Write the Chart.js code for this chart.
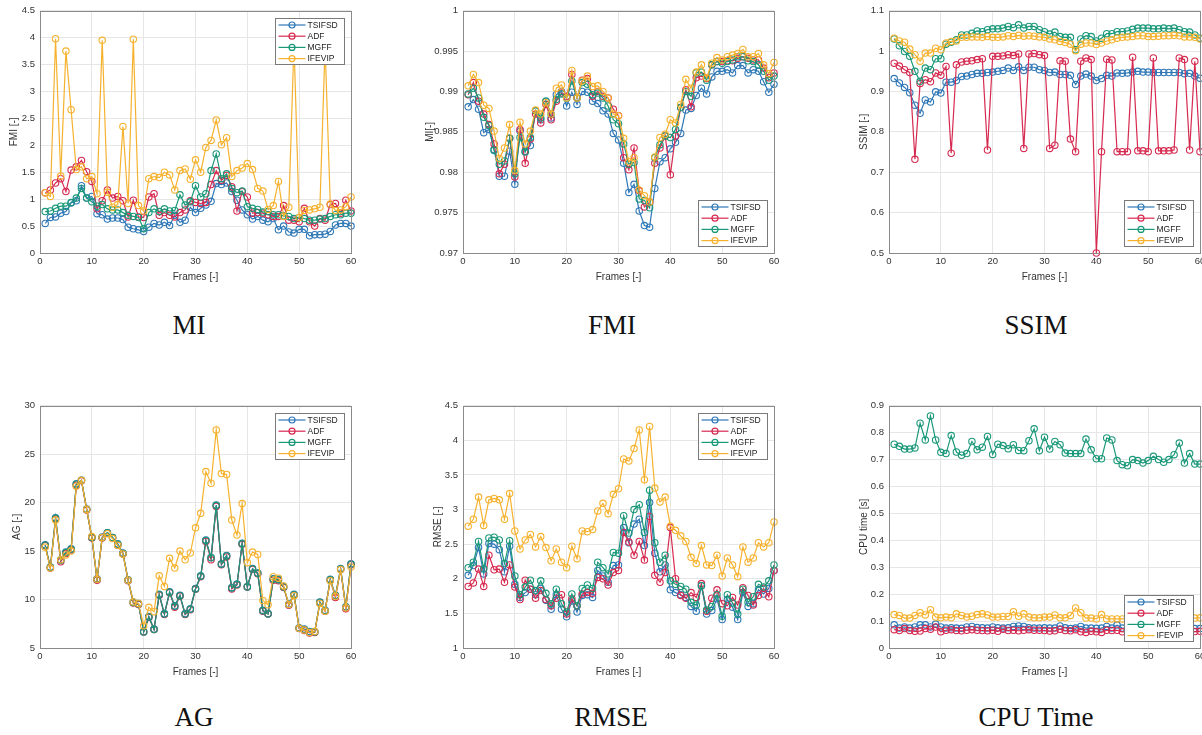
<!DOCTYPE html>
<html>
<head>
<meta charset="utf-8">
<script src="https://cdn.jsdelivr.net/npm/chart.js@4.4.0/dist/chart.umd.min.js"></script>
<style>
  html, body { margin:0; padding:0; background:#fff; width:1202px; height:735px; overflow:hidden; position:relative; }
  .panel { position:absolute; width:362px; height:289px; }
  .cap { position:absolute; font-family:"Liberation Serif", "Times New Roman", serif; font-size:27px; line-height:27px; color:#111; transform:translateX(-50%); white-space:nowrap; }
</style>
</head>
<body>

<script>
const FRAMES  = [1,2,3,4,5,6,7,8,9,10,11,12,13,14,15,16,17,18,19,20,21,22,23,24,25,26,27,28,29,30,
                 31,32,33,34,35,36,37,38,39,40,41,42,43,44,45,46,47,48,49,50,51,52,53,54,55,56,57,58,59,60];
const METHODS = ["TSIFSD", "ADF", "MGFF", "IFEVIP"];
const COLORS  = ["#2f78b7", "#d62a50", "#1a9879", "#f6b22e"];
const X_TICKS = [0, 10, 20, 30, 40, 50, 60];

// MI panel (y axis reads FMI)
const MI_TSIFSD = [0.55,0.66,0.67,0.74,0.77,0.93,0.97,1.25,1.02,1.05, 0.73,0.71,0.63,0.65,0.65,0.62,0.48,0.45,0.43,0.40,
                   0.48,0.55,0.52,0.57,0.51,0.70,0.57,0.61,0.85,0.75, 0.83,0.89,0.96,1.29,1.27,1.30,1.14,0.98,0.80,0.71,
                   0.63,0.68,0.61,0.58,0.64,0.43,0.50,0.39,0.37,0.44, 0.44,0.32,0.34,0.34,0.35,0.40,0.52,0.55,0.55,0.50];
const MI_ADF    = [1.12,1.17,1.30,1.38,1.14,1.54,1.60,1.72,1.51,1.33, 0.82,0.97,1.17,1.02,1.05,0.97,0.67,0.98,0.67,0.66,
                   1.04,1.10,0.70,0.75,0.70,0.67,0.75,0.80,0.97,0.94, 0.92,0.94,1.27,1.53,1.35,1.44,1.23,0.78,1.14,1.04,
                   0.74,0.75,0.74,0.71,0.68,0.68,0.88,0.61,0.61,0.58, 0.83,0.58,0.50,0.64,0.61,0.90,0.92,0.74,0.98,0.78];
const MI_MGFF   = [0.77,0.78,0.83,0.87,0.87,0.94,1.02,1.20,1.02,0.95, 0.87,0.90,0.82,0.80,0.80,0.75,0.70,0.68,0.66,0.45,
                   0.75,0.82,0.77,0.82,0.78,0.79,1.08,0.89,0.95,1.25, 1.04,1.10,1.53,1.84,1.38,1.47,1.20,1.12,1.15,0.86,
                   0.83,0.81,0.76,0.77,0.71,0.71,0.69,0.68,0.64,0.66, 0.64,0.61,0.61,0.63,0.64,0.68,0.71,0.71,0.74,0.74];
const MI_IFEVIP = [1.12,1.05,3.98,1.43,3.75,2.66,1.55,1.60,1.38,1.42, 1.10,3.95,1.13,0.85,0.90,2.35,0.92,3.97,0.88,0.78,
                   1.38,1.42,1.40,1.50,1.45,1.17,1.53,1.56,1.37,1.73, 1.50,1.96,2.09,2.47,2.01,2.14,1.42,1.53,1.58,1.66,
                   1.55,1.20,1.15,0.81,0.88,1.33,0.68,0.85,3.90,0.66, 0.79,0.80,0.82,0.85,3.85,0.91,0.79,0.80,0.86,1.04];

// FMI panel (y axis reads MI)
const FMI_TSIFSD = [0.9881,0.9890,0.9878,0.9849,0.9853,0.9828,0.9795,0.9795,0.9826,0.9785, 0.9851,0.9826,0.9833,0.9876,0.9865,0.9888,0.9867,0.9896,0.9900,0.9882,
                    0.9899,0.9884,0.9900,0.9899,0.9888,0.9885,0.9876,0.9872,0.9848,0.9840, 0.9811,0.9775,0.9785,0.9752,0.9734,0.9732,0.9780,0.9813,0.9818,0.9829,
                    0.9837,0.9848,0.9877,0.9879,0.9895,0.9904,0.9897,0.9918,0.9925,0.9925, 0.9927,0.9923,0.9932,0.9932,0.9923,0.9927,0.9925,0.9912,0.9899,0.9909];
const FMI_ADF    = [0.9896,0.9911,0.9888,0.9872,0.9859,0.9835,0.9798,0.9810,0.9842,0.9794, 0.9853,0.9811,0.9841,0.9872,0.9861,0.9884,0.9865,0.9888,0.9898,0.9894,
                    0.9921,0.9892,0.9914,0.9916,0.9894,0.9900,0.9894,0.9892,0.9878,0.9870, 0.9818,0.9803,0.9830,0.9777,0.9757,0.9763,0.9811,0.9830,0.9845,0.9797,
                    0.9845,0.9880,0.9902,0.9881,0.9917,0.9919,0.9916,0.9933,0.9937,0.9937, 0.9938,0.9938,0.9941,0.9943,0.9941,0.9939,0.9939,0.9929,0.9917,0.9923];
const FMI_MGFF   = [0.9897,0.9904,0.9892,0.9868,0.9858,0.9827,0.9810,0.9814,0.9842,0.9798, 0.9843,0.9825,0.9843,0.9876,0.9867,0.9888,0.9872,0.9890,0.9897,0.9892,
                    0.9913,0.9892,0.9911,0.9909,0.9896,0.9898,0.9892,0.9882,0.9865,0.9860, 0.9835,0.9810,0.9812,0.9767,0.9765,0.9756,0.9818,0.9834,0.9845,0.9843,
                    0.9853,0.9880,0.9900,0.9894,0.9923,0.9924,0.9914,0.9933,0.9937,0.9935, 0.9937,0.9939,0.9943,0.9943,0.9938,0.9937,0.9933,0.9925,0.9914,0.9919];
const FMI_IFEVIP = [0.9907,0.9921,0.9911,0.9883,0.9879,0.9851,0.9817,0.9830,0.9859,0.9802, 0.9862,0.9835,0.9851,0.9877,0.9872,0.9886,0.9872,0.9904,0.9908,0.9892,
                    0.9926,0.9892,0.9913,0.9919,0.9906,0.9907,0.9900,0.9892,0.9872,0.9870, 0.9842,0.9813,0.9818,0.9778,0.9771,0.9763,0.9819,0.9843,0.9847,0.9865,
                    0.9861,0.9884,0.9915,0.9904,0.9924,0.9933,0.9917,0.9935,0.9942,0.9939, 0.9943,0.9945,0.9947,0.9952,0.9943,0.9943,0.9947,0.9933,0.9922,0.9936];

// SSIM
const SSIM_TSIFSD = [0.932,0.921,0.910,0.897,0.866,0.846,0.879,0.874,0.899,0.896, 0.923,0.923,0.927,0.937,0.938,0.942,0.945,0.945,0.947,0.948,
                     0.950,0.952,0.958,0.952,0.961,0.952,0.960,0.960,0.954,0.952, 0.947,0.948,0.942,0.942,0.940,0.917,0.938,0.943,0.938,0.927,
                     0.932,0.940,0.938,0.946,0.945,0.946,0.948,0.950,0.948,0.948, 0.947,0.947,0.947,0.947,0.947,0.947,0.944,0.945,0.938,0.933];
const SSIM_ADF    = [0.970,0.963,0.954,0.947,0.732,0.920,0.929,0.924,0.946,0.940, 0.962,0.747,0.966,0.973,0.975,0.976,0.979,0.981,0.755,0.987,
                     0.987,0.988,0.991,0.989,0.993,0.759,0.993,0.994,0.991,0.989, 0.759,0.767,0.976,0.975,0.782,0.751,0.975,0.983,0.979,0.500,
                     0.751,0.980,0.978,0.751,0.751,0.751,0.985,0.753,0.753,0.751, 0.983,0.753,0.753,0.753,0.755,0.983,0.979,0.755,0.975,0.751];
const SSIM_MGFF   = [1.030,1.013,0.999,0.987,0.950,0.925,0.958,0.954,0.981,0.981, 1.017,1.022,1.028,1.040,1.040,1.044,1.050,1.048,1.053,1.055,
                     1.055,1.057,1.061,1.058,1.065,1.057,1.061,1.061,1.053,1.048, 1.042,1.047,1.036,1.034,1.034,1.003,1.030,1.038,1.036,1.025,
                     1.032,1.043,1.043,1.048,1.048,1.050,1.054,1.057,1.057,1.057, 1.055,1.055,1.057,1.055,1.057,1.053,1.048,1.047,1.040,1.032];
const SSIM_IFEVIP = [1.032,1.025,1.022,1.005,0.991,0.975,0.995,0.995,1.007,1.003, 1.020,1.024,1.025,1.034,1.034,1.035,1.035,1.034,1.036,1.034,
                     1.034,1.035,1.038,1.036,1.039,1.037,1.038,1.037,1.035,1.034, 1.030,1.028,1.024,1.021,1.017,1.001,1.017,1.020,1.020,1.016,
                     1.020,1.025,1.028,1.032,1.034,1.035,1.036,1.038,1.038,1.036, 1.036,1.037,1.038,1.038,1.039,1.038,1.035,1.035,1.034,1.030];

// AG
const AG_TSIFSD = [15.65,13.35,18.45,14.1,14.9,15.25,21.95,22.3,19.35,16.45, 12.15,16.45,16.9,16.4,15.75,14.8,12.05,9.75,9.6,6.7,
                   8.25,6.95,10.55,8.55,10.8,9.35,10.45,8.55,9.05,11.15, 12.45,16.15,14.35,19.75,13.7,14.55,11.25,11.6,15.8,11.35,
                   13.2,12.75,8.9,8.55,12.15,12.1,11.35,9.55,10.55,7.1, 6.95,6.7,6.7,9.75,8.9,12.1,10.45,13.2,9.25,13.7];
const AG_ADF    = [15.55,13.25,18.3,13.9,14.75,15.1,21.8,22.25,19.25,16.35, 12.0,16.35,16.85,16.35,15.6,14.7,11.95,9.65,9.5,6.65,
                   8.15,6.9,10.45,8.45,10.7,9.2,10.35,8.45,8.95,11.05, 12.35,16.0,14.1,19.6,13.6,14.4,11.1,11.5,15.7,11.3,
                   13.1,12.65,8.8,8.5,12.0,11.95,11.25,9.4,10.45,7.0, 6.8,6.55,6.6,9.65,8.8,12.0,10.2,13.1,9.05,13.6];
const AG_MGFF   = [15.6,13.3,18.4,14.05,14.85,15.2,21.9,22.3,19.3,16.4, 12.1,16.4,16.9,16.4,15.7,14.75,12.0,9.7,9.55,6.65,
                   8.2,6.9,10.5,8.5,10.75,9.3,10.4,8.5,9.0,11.1, 12.4,16.1,14.3,19.7,13.65,14.5,11.2,11.55,15.75,11.3,
                   13.15,12.7,8.85,8.5,12.1,12.05,11.3,9.5,10.5,7.05, 6.9,6.65,6.65,9.7,8.85,12.05,10.4,13.15,9.2,13.65];
const AG_IFEVIP = [15.4,13.25,18.2,14.1,14.6,15.0,21.7,22.3,19.3,16.5, 12.1,16.4,16.8,16.3,15.6,14.7,12.0,9.75,9.6,7.3,
                   9.2,8.75,12.45,11.35,14.25,13.25,15.0,14.1,14.8,17.4, 18.9,23.2,22.0,27.5,23.0,22.9,18.2,16.65,19.9,13.8,
                   14.9,14.65,9.9,9.45,12.35,12.2,11.4,9.5,10.4,7.05, 6.85,6.6,6.7,9.6,8.8,11.95,10.35,13.1,9.15,13.35];

// RMSE
const RMSE_TSIFSD = [2.05,2.19,2.45,2.07,2.51,2.50,2.42,2.10,2.47,1.92, 1.73,1.80,1.85,1.77,1.86,1.69,1.56,1.77,1.56,1.45,
                     1.68,1.52,1.76,1.77,1.73,2.12,2.04,1.95,2.19,2.20, 2.74,2.52,2.79,2.86,2.48,3.10,2.37,2.10,2.20,1.84,
                     1.80,1.77,1.73,1.60,1.53,1.90,1.49,1.54,1.71,1.41, 1.70,1.59,1.41,1.80,1.60,1.64,1.84,1.78,1.86,2.12];
const RMSE_ADF    = [1.89,1.94,2.14,1.89,2.34,2.13,2.14,1.95,2.20,1.88, 1.70,1.98,1.85,1.72,1.83,1.70,1.61,1.72,1.77,1.49,
                     1.71,1.61,1.78,1.80,1.79,2.02,2.00,1.91,2.09,2.12, 2.67,2.53,2.34,2.54,2.27,2.90,2.05,1.95,2.09,2.74,
                     2.00,1.76,1.72,1.80,1.73,1.93,1.53,1.72,1.84,1.64, 1.61,1.73,1.62,1.87,1.76,1.62,1.76,1.86,1.74,2.12];
const RMSE_MGFF   = [2.16,2.24,2.54,2.14,2.59,2.60,2.56,2.22,2.55,2.04, 1.77,1.88,1.98,1.83,1.97,1.79,1.64,1.85,1.64,1.52,
                     1.78,1.61,1.86,1.91,1.86,2.24,2.16,2.07,2.38,2.37, 2.91,2.66,3.00,3.07,2.67,3.28,2.52,2.24,2.34,1.97,
                     1.92,1.89,1.85,1.66,1.62,1.90,1.55,1.60,1.77,1.46, 1.77,1.65,1.49,1.85,1.66,1.74,1.92,1.88,1.97,2.20];
const RMSE_IFEVIP = [2.76,2.86,3.18,2.77,3.14,3.16,3.14,2.86,3.23,2.69, 2.43,2.56,2.64,2.46,2.61,2.45,2.26,2.43,2.24,2.16,
                     2.47,2.29,2.69,2.68,2.71,2.98,3.09,2.94,3.22,3.30, 3.73,3.70,3.88,4.15,3.43,4.20,3.31,3.11,3.18,2.76,
                     2.70,2.62,2.54,2.31,2.22,2.48,2.20,2.19,2.34,2.04, 2.30,2.20,2.03,2.46,2.24,2.30,2.52,2.46,2.52,2.82];

// CPU time [s]
const CPU_TSIFSD = [0.086,0.074,0.078,0.074,0.078,0.086,0.086,0.078,0.089,0.078, 0.074,0.075,0.074,0.073,0.078,0.080,0.076,0.075,0.074,0.078,
                    0.075,0.074,0.075,0.080,0.082,0.080,0.075,0.074,0.074,0.075, 0.074,0.074,0.082,0.075,0.072,0.074,0.080,0.074,0.074,0.073,
                    0.074,0.080,0.074,0.085,0.074,0.073,0.074,0.075,0.073,0.074, 0.074,0.073,0.074,0.075,0.074,0.073,0.074,0.073,0.072,0.072];
const CPU_ADF    = [0.068,0.065,0.072,0.065,0.062,0.063,0.072,0.070,0.078,0.060, 0.066,0.068,0.065,0.064,0.066,0.068,0.066,0.065,0.064,0.066,
                    0.062,0.070,0.065,0.066,0.064,0.066,0.068,0.066,0.066,0.065, 0.063,0.064,0.070,0.065,0.064,0.068,0.060,0.058,0.062,0.060,
                    0.058,0.066,0.065,0.066,0.060,0.062,0.063,0.061,0.062,0.061, 0.062,0.060,0.061,0.063,0.062,0.061,0.060,0.062,0.061,0.062];
const CPU_MGFF   = [0.757,0.749,0.739,0.739,0.743,0.835,0.773,0.862,0.773,0.727, 0.722,0.789,0.728,0.716,0.722,0.767,0.736,0.746,0.786,0.719,
                    0.757,0.752,0.740,0.755,0.734,0.733,0.770,0.814,0.733,0.783, 0.739,0.767,0.755,0.724,0.722,0.722,0.722,0.776,0.736,0.703,
                    0.703,0.780,0.773,0.696,0.681,0.677,0.700,0.696,0.687,0.696, 0.712,0.700,0.690,0.700,0.718,0.761,0.687,0.722,0.683,0.683];
const CPU_IFEVIP = [0.124,0.121,0.111,0.111,0.121,0.131,0.123,0.142,0.115,0.112, 0.115,0.112,0.127,0.121,0.115,0.118,0.124,0.127,0.123,0.115,
                    0.115,0.117,0.117,0.135,0.118,0.127,0.115,0.112,0.112,0.115, 0.115,0.123,0.112,0.112,0.121,0.149,0.131,0.111,0.111,0.108,
                    0.124,0.108,0.108,0.108,0.108,0.110,0.112,0.109,0.111,0.110, 0.112,0.110,0.109,0.111,0.113,0.110,0.112,0.109,0.111,0.112];

const PANELS = [
  { caption:"MI",       left:0,   top:0,   capX:189,  capY:312, yTitle:"FMI [-]",      titlePad:8,  yMin:0,    yMax:4.5, yStep:0.5,   legend:"ne", series:[MI_TSIFSD, MI_ADF, MI_MGFF, MI_IFEVIP] },
  { caption:"FMI",      left:423, top:0,   capX:612,  capY:312, yTitle:"MI[-]",        titlePad:1,  yMin:0.97, yMax:1,   yStep:0.005, legend:"se", series:[FMI_TSIFSD, FMI_ADF, FMI_MGFF, FMI_IFEVIP] },
  { caption:"SSIM",     left:849, top:0,   capX:1036, capY:312, yTitle:"SSIM [-]",     titlePad:9,  yMin:0.5,  yMax:1.1, yStep:0.1,   legend:"se", series:[SSIM_TSIFSD, SSIM_ADF, SSIM_MGFF, SSIM_IFEVIP] },
  { caption:"AG",       left:0,   top:395, capX:194,  capY:704, yTitle:"AG [-]",       titlePad:11, yMin:5,    yMax:30,  yStep:5,     legend:"ne", series:[AG_TSIFSD, AG_ADF, AG_MGFF, AG_IFEVIP] },
  { caption:"RMSE",     left:423, top:395, capX:611,  capY:704, yTitle:"RMSE [-]",     titlePad:9,  yMin:1,    yMax:4.5, yStep:0.5,   legend:"ne", series:[RMSE_TSIFSD, RMSE_ADF, RMSE_MGFF, RMSE_IFEVIP] },
  { caption:"CPU Time", left:849, top:395, capX:1036, capY:704, yTitle:"CPU time [s]", titlePad:9,  yMin:0,    yMax:0.9, yStep:0.1,   legend:"se", series:[CPU_TSIFSD, CPU_ADF, CPU_MGFF, CPU_IFEVIP] },
];

const SANS = '"Liberation Sans", Arial, Helvetica, sans-serif';
Chart.defaults.font.family = SANS;

// axes box + inset legend, MATLAB style
const boxAndLegend = {
  id: "boxAndLegend",
  afterDatasetsDraw(chart, args, opts) {
    const { ctx, chartArea: a } = chart;
    ctx.save();
    ctx.strokeStyle = "#8a8a8a"; ctx.lineWidth = 1;
    ctx.strokeRect(Math.round(a.left) + 0.5, Math.round(a.top) + 0.5, Math.round(a.right - a.left), Math.round(a.bottom - a.top));

    const w = 69, h = 46, inset = 7;
    const x = Math.round(a.right - inset - w) + 0.5;
    const y = Math.round(opts.where === "ne" ? a.top + inset : a.bottom - inset - h) + 0.5;
    ctx.fillStyle = "#fff"; ctx.fillRect(x, y, w, h);
    ctx.strokeStyle = "#7a7a7a"; ctx.strokeRect(x, y, w, h);
    ctx.font = "8.5px " + SANS; ctx.textBaseline = "middle"; ctx.textAlign = "left";
    chart.data.datasets.forEach((ds, i) => {
      const yy = y + 6.5 + i * 11.2;
      ctx.strokeStyle = ds.borderColor; ctx.lineWidth = 1.2;
      ctx.beginPath(); ctx.moveTo(x + 3, yy); ctx.lineTo(x + 30, yy); ctx.stroke();
      ctx.beginPath(); ctx.arc(x + 16.5, yy, 3, 0, Math.PI * 2); ctx.stroke();
      ctx.fillStyle = "#222"; ctx.fillText(ds.label, x + 32, yy + 0.5);
    });
    ctx.restore();
  }
};

const fmt = v => String(parseFloat(Number(v).toFixed(4)));

PANELS.forEach(p => {
  const wrap = document.createElement("div");
  wrap.className = "panel";
  wrap.style.left = p.left + "px";
  wrap.style.top = p.top + "px";
  const cv = document.createElement("canvas");
  cv.width = 362; cv.height = 289;
  wrap.appendChild(cv);
  document.body.appendChild(wrap);

  const cap = document.createElement("div");
  cap.className = "cap";
  cap.style.left = p.capX + "px";
  cap.style.top = p.capY + "px";
  cap.textContent = p.caption;
  document.body.appendChild(cap);

  const datasets = METHODS.map((m, i) => ({
    label: m,
    data: FRAMES.map((f, k) => ({ x: f, y: p.series[i][k] })),
    borderColor: COLORS[i],
    borderWidth: 1.2,
    pointRadius: 3.2,
    pointBorderWidth: 1.1,
    pointBorderColor: COLORS[i],
    pointBackgroundColor: "rgba(255,255,255,0)",
    tension: 0,
    clip: false,
    order: METHODS.length - i,
  }));

  new Chart(cv, {
    type: "line",
    data: { datasets },
    options: {
      responsive: false,
      animation: false,
      layout: { padding: { top: 9, right: 11, left: 0, bottom: 0 } },
      plugins: { legend: { display: false }, tooltip: { enabled: false }, boxAndLegend: { where: p.legend } },
      scales: {
        x: {
          type: "linear", min: 0, max: 60,
          afterBuildTicks: s => { s.ticks = X_TICKS.map(v => ({ value: v })); },
          ticks: { font: { size: 9.5 }, color: "#333", padding: 3, maxRotation: 0 },
          grid: { color: "#e6e6e6", drawTicks: false },
          border: { display: false },
          title: { display: true, text: "Frames [-]", font: { size: 10 }, color: "#333", padding: { top: 0, bottom: 6 } },
          afterFit: s => { s.height = 36; },
        },
        y: {
          min: p.yMin, max: p.yMax,
          ticks: { stepSize: p.yStep, font: { size: 9.5 }, color: "#333", padding: 5, callback: fmt },
          grid: { color: "#e6e6e6", drawTicks: false },
          border: { display: false },
          title: { display: true, text: p.yTitle, font: { size: 10 }, color: "#333", padding: { top: p.titlePad, bottom: 0 } },
          afterFit: s => { s.width = 40; },
        },
      },
    },
    plugins: [boxAndLegend],
  });
});
</script>
</body>
</html>
